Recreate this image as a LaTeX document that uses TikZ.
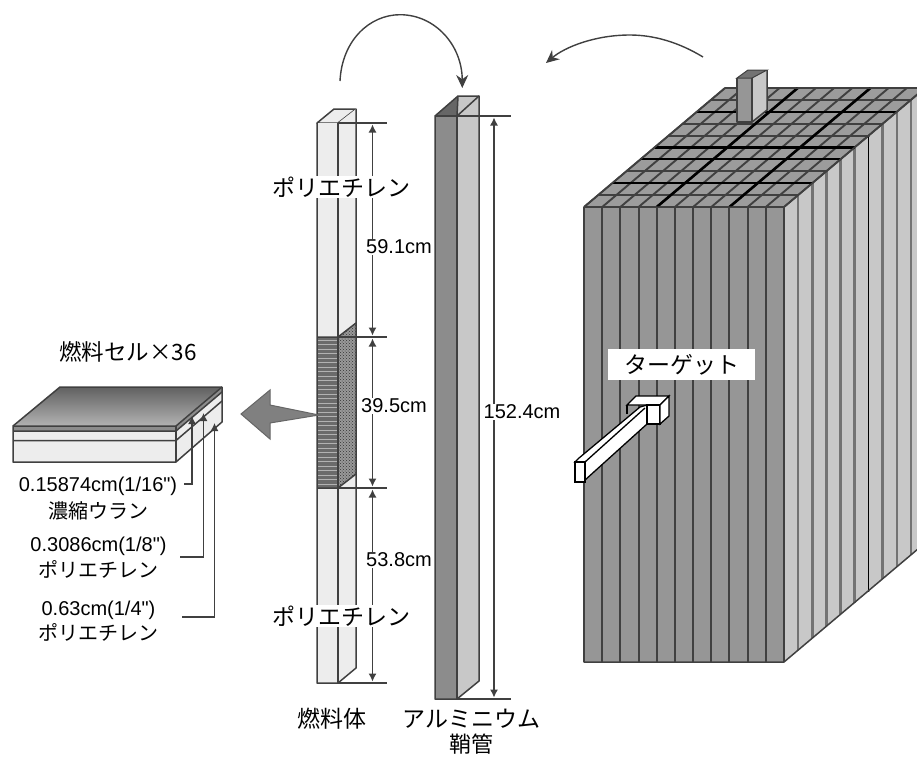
\documentclass[tikz,border=0pt]{standalone}
\usepackage{fontspec}
\setmainfont{Liberation Sans}
\newfontfamily\plainsans{Liberation Sans}
\newfontfamily\jp{Noto Sans CJK JP}
\usetikzlibrary{calc,arrows.meta,patterns}
\definecolor{frontgray}{HTML}{969696}
\definecolor{topgray}{HTML}{9C9C9C}
\definecolor{sidegray}{HTML}{C8C8C8}
\definecolor{rodgray}{HTML}{EDEDED}
\definecolor{linegray}{HTML}{404040}
\tikzset{
  edge/.style={draw=linegray,line width=1.5pt,line join=round},
  dimline/.style={draw=linegray,line width=1.2pt,{Latex[length=8pt,width=8pt]}-{Latex[length=8pt,width=8pt]},shorten <=1.5pt,shorten >=1.5pt},
  tick/.style={draw=linegray,line width=1.2pt},
  lead/.style={draw=linegray,line width=1.3pt,-{Latex[length=8pt,width=8pt]}},
  swing/.style={draw=linegray,line width=1.4pt,-{Stealth[length=13pt,width=12pt]}},
  dimlabel/.style={fill=white,inner sep=1pt,font=\fontsize{20}{20}\selectfont},
  celllabel/.style={inner sep=0pt,font=\plainsans\fontsize{20}{20}\selectfont},
  jplabel/.style={inner sep=0pt,font=\jp\fontsize{20}{20}\selectfont},
  biglabel/.style={fill=white,inner sep=1pt,font=\jp\fontsize{23}{23}\selectfont},
  namelabel/.style={inner sep=0pt,font=\jp\fontsize{23}{23}\selectfont}
}
\begin{document}
\begin{tikzpicture}[x=1pt,y=-1pt]
\useasboundingbox (0,0) rectangle (917,756);
\clip (0,0) rectangle (917,756);

% block
\fill[frontgray] (584,207) rectangle (784,662);
\fill[sidegray] (784,207) -- (925,88) -- (925,543) -- (784,662) -- cycle;
\fill[topgray] (584,207) -- (725,88) -- (925,88) -- (784,207) -- cycle;
\foreach \i in {0,...,11}
    \draw[draw=linegray,line width=2pt] ({584+18.18*\i},207) -- ({584+18.18*\i},662);
\draw[draw=linegray,line width=1pt] (710.5,207) -- (710.5,662);
\foreach \j in {1,...,10}
    \draw[draw=black!55,line width=2.6pt] ({784+14.1*\j},{207-11.9*\j}) -- ({784+14.1*\j},{662-11.9*\j});
\draw[sidegray,line width=2.6pt] (868.6,136.6) -- (868.6,591.6);
\draw[black,line width=1.2pt] (868.6,136.6) -- (868.6,591.6);
\foreach \i in {0,...,11}
    \draw[draw=linegray,line width=1.9pt] ({584+18.18*\i},207) -- ({725+18.18*\i},88);
\foreach \j in {0,...,10}
    \draw[draw=linegray,line width=1.9pt] ({584+14.1*\j},{207-11.9*\j}) -- ({784+14.1*\j},{207-11.9*\j});
% heavier joints on top
\foreach \i in {4,8}
    \draw[black,line width=2.6pt] ({584+18.18*\i},207) -- ({725+18.18*\i},88);
\foreach \j in {2,4,5,8}
    \draw[black,line width=2.1pt] ({584+14.1*\j},{207-11.9*\j}) -- ({784+14.1*\j},{207-11.9*\j});
\draw[edge] (584,207) -- (584,662) -- (784,662) -- (925,543);
\draw[edge] (584,207) -- (725,88) -- (925,88);
\draw[edge] (584,207) -- (784,207) -- (925,88);

% tube standing in the block
\fill[frontgray] (737,78) rectangle (752,122);
\fill[sidegray] (752,78) -- (767,70) -- (767,110) -- (752,122) -- cycle;
\filldraw[draw=linegray,fill=black!55,line width=1pt] (737,78) -- (748,70) -- (767,70) -- (752,78) -- cycle;
\draw[edge] (737,78) -- (737,122) -- (752,122) -- (752,78);
\draw[edge] (752,122) -- (767,110) -- (767,70);

% target
\node[fill=white,minimum width=147pt,minimum height=31pt,inner sep=0pt,font=\jp\fontsize{23}{23}\selectfont] (target) at (681.5,364.5) {ターゲット};
\filldraw[fill=white,draw=black,line width=1.3pt] (627,405) -- (636,396) -- (669,396) -- (660,405) -- cycle;
\draw[black,line width=1.3pt] (627,405) -- (627,414);
\filldraw[fill=white,draw=black,line width=1.3pt] (575,462) -- (579,458) -- (640,407) -- (647,405) -- (647,424) -- (585,480) -- (585,462) -- cycle;
\draw[black,line width=1.3pt] (585,462) -- (645,408);
\filldraw[fill=white,draw=black,line width=1.3pt] (575,462) rectangle (585,482);
\filldraw[fill=white,draw=black,line width=1.3pt] (647,405) rectangle (660,424);
\filldraw[fill=white,draw=black,line width=1.3pt] (660,405) -- (669,396) -- (669,416) -- (660,424) -- cycle;

% fuel assembly
\filldraw[fill=rodgray,edge] (317,123) -- (334,109) -- (356,109) -- (338,123) -- cycle;
\fill[rodgray] (317,123) rectangle (338,683);
\fill[rodgray] (338,123) -- (356,109) -- (356,668) -- (338,683) -- cycle;
\fill[black!40] (338,337) -- (356,323) -- (356,474) -- (338,488) -- cycle;
\fill[pattern=crosshatch dots,pattern color=black!80] (338,337) -- (356,323) -- (356,474) -- (338,488) -- cycle;
\fill[black!58] (317,337) rectangle (338,488);
\foreach \k in {0,...,32}
    \draw[black!30,line width=0.8pt] (317,{340+4.5*\k}) -- (338,{340+4.5*\k});
\draw[edge] (317,123) -- (317,683) -- (338,683) -- (356,668) -- (356,109);
\draw[edge] (338,123) -- (338,683);
\draw[edge] (317,337) -- (338,337) -- (356,323);
\draw[edge] (317,488) -- (338,488) -- (356,474);

% sheath
\fill[black!55] (435,116) -- (458,96) -- (479,96) -- (457,116) -- cycle;
\fill[sidegray] (457,116) -- (479,96) -- (479,681) -- (457,699) -- cycle;
\fill[black!45] (435,116) rectangle (457,699);
\fill[sidegray] (457,116) -- (479,96) -- (458,96) -- cycle;
\fill[black!60] (435,116) -- (458,96) -- (457,116) -- cycle;
\draw[edge] (435,116) -- (435,699) -- (457,699) -- (479,681) -- (479,96) -- (458,96) -- cycle;
\draw[edge] (457,116) -- (457,699);
\draw[edge] (457,116) -- (479,96);
\draw[edge] (458,96) -- (457,116);
\draw[edge,line width=1.8pt] (435,116) -- (457,116);

% dimensions of the assembly
\coordinate (rodA) at (372.5,123);
\coordinate (rodB) at (372.5,337);
\coordinate (rodC) at (372.5,488);
\coordinate (rodD) at (372.5,683);
\draw[tick] (338,123) -- (387,123);
\draw[tick] (338,337) -- (387,337);
\draw[tick] (338,488) -- (387,488);
\draw[tick] (338,683) -- (387,683);
\draw[dimline] (rodA) -- (rodB);
\draw[dimline] (rodB) -- (rodC);
\draw[dimline] (rodC) -- (rodD);
\node[dimlabel] (lenA) at (399,247) {59.1cm};
\node[dimlabel] (lenB) at (394,406) {39.5cm};
\node[dimlabel] (lenC) at (399,560) {53.8cm};

% dimensions of the sheath
\coordinate (tubeA) at (494,116);
\coordinate (tubeB) at (494,699);
\draw[tick] (457,116) -- (511,116);
\draw[tick] (457,699) -- (511,699);
\draw[dimline] (tubeA) -- (tubeB);
\node[dimlabel] (lenD) at (522,412) {152.4cm};

\node[biglabel] (polyA) at (341,187) {ポリエチレン};
\node[biglabel] (polyB) at (341,616) {ポリエチレン};
\node[namelabel] (rodname) at (331.5,719) {燃料体};
\node[namelabel] (tubename) at (471.5,719) {アルミニウム};
\node[namelabel,font=\jp\fontsize{22}{22}\selectfont] (tubename2) at (471,744) {鞘管};

% swing arrows
\coordinate (swingA) at (340,81);
\coordinate (swingB) at (462.3,88);
\coordinate (swingC) at (703,57);
\coordinate (swingD) at (546,63);
\draw[swing] (swingA) .. controls (342,40) and (370,14.7) .. (400,14.7) .. controls (435,14.7) and (462,45) .. (swingB);
\draw[swing] (swingC) .. controls (680,43) and (655,35) .. (630,35) .. controls (595,35) and (565,47) .. (swingD);

% big arrow
\filldraw[fill=black!50,draw=black!60,line width=1pt] (241,414) -- (270,390) -- (270,405) -- (319,415) -- (270,423) -- (270,439) -- cycle;

% fuel cell
\shade[top color=black!62,bottom color=black!30] (13,426) -- (60,387) -- (222,387) -- (176,426) -- cycle;
\fill[rodgray] (13,426) rectangle (176,462);
\fill[rodgray] (176,426) -- (222,387) -- (222,422) -- (176,462) -- cycle;
\fill[black!45] (13,426) rectangle (176,431);
\fill[black!45] (176,426) -- (222,387) -- (222,392) -- (176,431) -- cycle;
\draw[edge] (13,426) -- (60,387) -- (222,387) -- (222,422) -- (176,462) -- (13,462) -- cycle;
\draw[edge] (13,426) -- (176,426) -- (222,387);
\draw[edge] (176,426) -- (176,462);
\draw[edge] (13,431) -- (176,431) -- (222,392);
\draw[edge] (13,440.5) -- (176,440.5) -- (222,401);

\node[inner sep=0pt,font=\jp\fontsize{22.5}{22.5}\selectfont] (cellname) at (128,352) {燃料セル×36};
\node[celllabel] (thickA) at (98,486) {0.15874cm(1/16")};
\node[jplabel] (fuelA) at (98,511) {濃縮ウラン};
\node[celllabel] (thickB) at (98.5,546) {0.3086cm(1/8")};
\node[jplabel] (fuelB) at (98.5,569) {ポリエチレン};
\node[celllabel] (thickC) at (98.5,610) {0.63cm(1/4")};
\node[jplabel] (fuelC) at (98.5,632) {ポリエチレン};

\coordinate (tipA) at (192,416);
\coordinate (tipB) at (203.5,413);
\coordinate (tipC) at (214.5,423);
\coordinate (startA) at (184,484);
\coordinate (startB) at (180,557);
\coordinate (startC) at (182,617);
\draw[lead] (startA) -| (tipA);
\draw[lead] (startB) -| (tipB);
\draw[lead] (startC) -| (tipC);
\end{tikzpicture}
\end{document}
